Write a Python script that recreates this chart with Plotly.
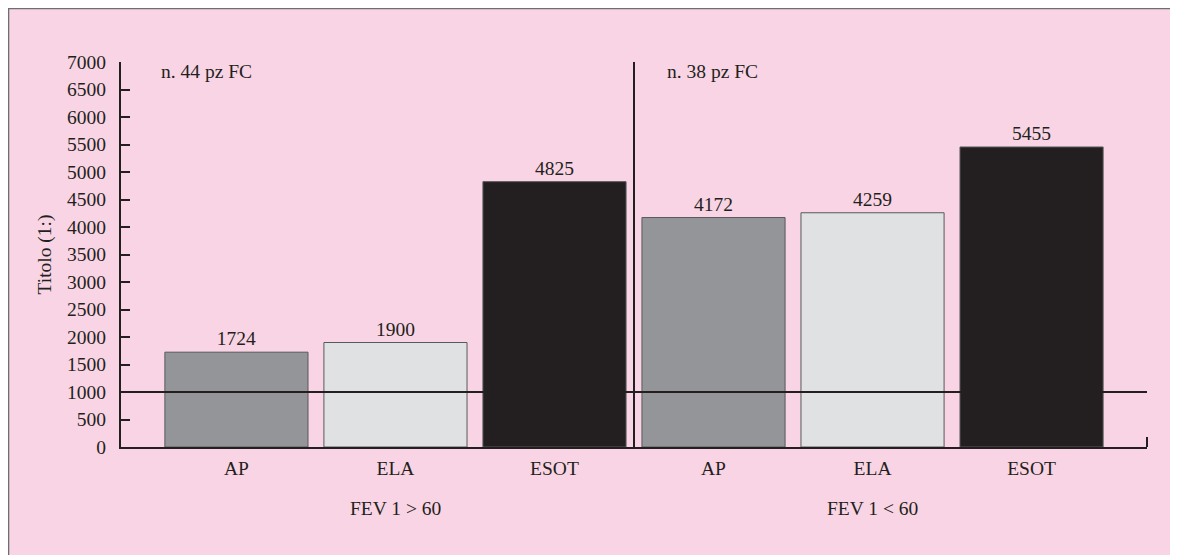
import plotly.graph_objects as go

categories = ["AP", "ELA", "ESOT", "AP", "ELA", "ESOT"]
values = [1724, 1900, 4825, 4172, 4259, 5455]
bar_colors = ["#939598", "#e0e1e3", "#231f20", "#939598", "#e0e1e3", "#231f20"]
groups = ["FEV 1 > 60", "FEV 1 < 60"]
group_notes = ["n. 44 pz FC", "n. 38 pz FC"]
y_ticks = list(range(0, 7001, 500))
threshold = 1000

FONT = "Liberation Serif, Times New Roman, serif"
FS = 19.5
INK = "#231f20"
PINK = "#f9d4e4"

positions = list(range(len(categories)))

fig = go.Figure()
fig.add_trace(go.Bar(
    x=positions, y=values, width=0.9,
    marker=dict(color=bar_colors, line=dict(color="#58595b", width=1)),
    text=[str(v) for v in values], textposition="outside",
    textfont=dict(family=FONT, size=FS, color=INK),
    cliponaxis=False, showlegend=False,
))

xr = [-0.726, 5.726]
shapes = [
    # background frame
    dict(type="rect", xref="paper", yref="paper", x0=-0.1096, x1=1.0287, y0=-0.4, y1=1.139,
         fillcolor="rgba(0,0,0,0)", line=dict(color="#6d6e71", width=1.5), layer="below"),
    # threshold line
    dict(type="line", xref="paper", yref="y", x0=0, x1=1, y0=threshold, y1=threshold,
         line=dict(color=INK, width=2)),
    # divider between groups
    dict(type="line", xref="x", yref="y", x0=2.5, x1=2.5, y0=0, y1=7000,
         line=dict(color=INK, width=2)),
    # end tick on x axis
    dict(type="line", xref="paper", yref="paper", x0=1, x1=1, y0=0, y1=0.026,
         line=dict(color=INK, width=2)),
]

annotations = []
for gi, g in enumerate(groups):
    annotations.append(dict(x=1 + 3 * gi, y=-0.16, xref="x", yref="paper", text=g,
                            showarrow=False, font=dict(family=FONT, size=FS, color=INK),
                            xanchor="center", yanchor="middle"))
annotations.append(dict(x=-0.489, y=0.975, xref="x", yref="paper", text=group_notes[0],
                        showarrow=False, font=dict(family=FONT, size=FS, color=INK),
                        xanchor="left", yanchor="middle"))
annotations.append(dict(x=2.693, y=0.975, xref="x", yref="paper", text=group_notes[1],
                        showarrow=False, font=dict(family=FONT, size=FS, color=INK),
                        xanchor="left", yanchor="middle"))

fig.update_layout(
    width=1178, height=555,
    margin=dict(l=113, r=39, t=54, b=116),
    paper_bgcolor=PINK, plot_bgcolor="rgba(0,0,0,0)",
    font=dict(family=FONT, size=FS, color=INK),
    shapes=shapes, annotations=annotations,
    xaxis=dict(range=xr, tickvals=positions, ticktext=categories,
               ticks="outside", ticklen=3, tickcolor="rgba(0,0,0,0)",
               showline=True, linecolor=INK, linewidth=2, showgrid=False, zeroline=False,
               tickfont=dict(family=FONT, size=FS, color=INK), fixedrange=True),
    yaxis=dict(range=[0, 7000], tickvals=y_ticks, ticks="inside", ticklen=9, tickwidth=2,
               tickcolor=INK, showline=True, linecolor=INK, linewidth=2,
               showgrid=False, zeroline=False, ticklabelstandoff=9,
               tickfont=dict(family=FONT, size=FS, color=INK),
               title=dict(text="Titolo (1:)", font=dict(family=FONT, size=FS, color=INK), standoff=10)),
)

fig.write_html("out.html")
